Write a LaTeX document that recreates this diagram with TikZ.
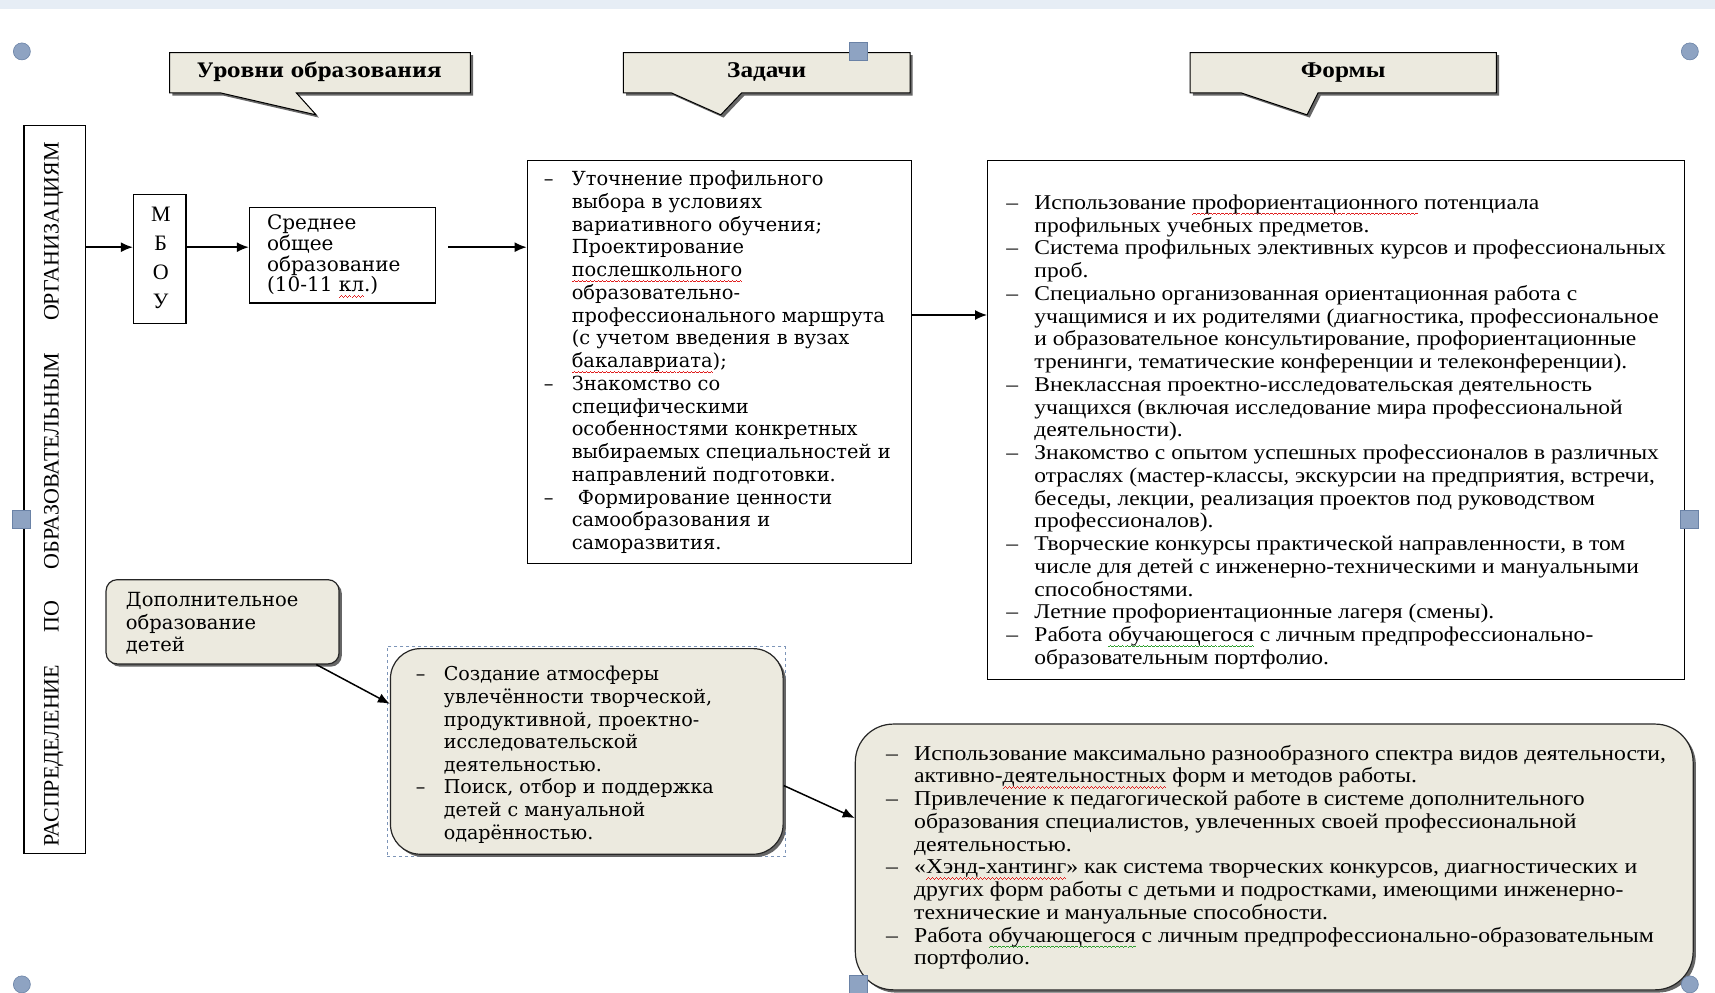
\documentclass[tikz,border=0pt]{standalone}
\usepackage{fontspec}
\setmainfont{Liberation Serif}
\newfontfamily\wideserif{DejaVu Serif}
\newfontfamily\formfont[FakeStretch=1.12]{Liberation Serif}
\usetikzlibrary{arrows.meta,fit,calc}
\definecolor{beige}{HTML}{ECEADF}
\definecolor{strip}{HTML}{E6EDF5}
\definecolor{hfill}{HTML}{8EA3C2}
\definecolor{hdraw}{HTML}{6A82A6}
\definecolor{selblue}{HTML}{7D95B8}
\definecolor{spellred}{HTML}{E02020}
\definecolor{spellgreen}{HTML}{30A030}
\newcommand\wavecell{\hbox{\rule[-5.6pt]{1pt}{0.9pt}\rule[-4.9pt]{1pt}{0.9pt}\rule[-4.2pt]{1pt}{0.9pt}\rule[-4.9pt]{1pt}{0.9pt}}}
\newcommand\wavyline[2]{{\setbox0\hbox{#2}\rlap{\color{#1}\hbox to \wd0{\xleaders\wavecell\hfill}}\box0}}
\newcommand\redwave[1]{\wavyline{spellred}{#1}}
\newcommand\greenwave[1]{\wavyline{spellgreen}{#1}}
\newcommand{\bul}[1]{\makebox[#1][l]{–}}
\newcommand{\tind}[1]{\hspace*{#1}}
\newcommand{\callshape}[5]{(#1,48) -- (#2,48) -- (#2,85) -- (#4,85) -- (#5,105) -- (#3,85) -- (#1,85) -- cycle}
\tikzset{
  box/.style={draw=black, line width=1.2pt, inner sep=0pt},
  rbox/.style={draw=black!85, line width=1.2pt, fill=beige, inner sep=0pt},
  shadowfill/.style={fill=black!60},
  txt/.style={inner sep=0pt, anchor=north west, align=left},
  arr/.style={-{Latex[length=12pt,width=10pt]}, line width=1.5pt},
  handleC/.style={circle, fill=hfill, draw=hdraw, line width=0.6pt, minimum size=17pt, inner sep=0pt},
  handleS/.style={rectangle, fill=hfill, draw=hdraw, line width=0.8pt, minimum size=18pt, inner sep=0pt},
  calltext/.style={inner sep=0pt, font=\formfont\bfseries\fontsize{22.5}{24}\selectfont},
}
\begin{document}
\begin{tikzpicture}[x=1.0938pt,y=-1.0938pt]
\useasboundingbox (0,0) rectangle (1568,907);
\fill[strip] (0,0) rectangle (1568,8);

% callouts
\fill[shadowfill,shift={(2.5,2.5)}] \callshape{155}{430}{202}{271}{289};
\filldraw[fill=beige, draw=black, line width=1pt] \callshape{155}{430}{202}{271}{289};
\node[calltext, font=\wideserif\bfseries\fontsize{20}{22}\selectfont] (t1) at (292,66) {Уровни образования};
\fill[shadowfill,shift={(2.5,2.5)}] \callshape{570}{832}{614}{678}{659};
\filldraw[fill=beige, draw=black, line width=1pt] \callshape{570}{832}{614}{678}{659};
\node[calltext] (t2) at (701,66) {Задачи};
\fill[shadowfill,shift={(2.5,2.5)}] \callshape{1088}{1368}{1135}{1205}{1195};
\filldraw[fill=beige, draw=black, line width=1pt] \callshape{1088}{1368}{1135}{1205}{1195};
\node[calltext] (t3) at (1228,66) {Формы};

% vertical box
\node[box, fit={(22,115) (78,780)}] (v) {};
\node[rotate=90, inner sep=0pt, font=\fontsize{22}{24}\selectfont] (vt) at (49,452)
  {\hbox to 705pt{РАСПРЕДЕЛЕНИЕ\hfill ПО\hfill ОБРАЗОВАТЕЛЬНЫМ\hfill ОРГАНИЗАЦИЯМ}};

% MBOU
\node[box, fit={(122,178) (170,296)}] (mb) {};
\node[align=center, inner sep=0pt, font=\fontsize{22}{29}\selectfont] (mbt) at (147,236) {М\\Б\\О\\У};

% Srednee
\node[box, fit={(228,190) (398,277)}] (sr) {};
\node[txt, font=\wideserif\fontsize{20}{20.8}\selectfont] (srt) at (244,196)
  {Среднее\\общее\\образование\\(10-11 \redwave{кл}.)};

% Zadachi box
\node[box, fit={(482,147) (833,515)}] (zad) {};
\node[txt, font=\wideserif\fontsize{19.4}{22.75}\selectfont] (zadt) at (497,156) {%
\bul{28pt}Уточнение профильного\\
\tind{28pt}выбора в условиях\\
\tind{28pt}вариативного обучения;\\
\tind{28pt}Проектирование\\
\tind{28pt}\redwave{послешкольного}\\
\tind{28pt}образовательно-\\
\tind{28pt}профессионального маршрута\\
\tind{28pt}(с учетом введения в вузах\\
\tind{28pt}\redwave{бакалавриата});\\
\bul{28pt}Знакомство со\\
\tind{28pt}специфическими\\
\tind{28pt}особенностями конкретных\\
\tind{28pt}выбираемых специальностей и\\
\tind{28pt}направлений подготовки.\\
\bul{28pt} Формирование ценности\\
\tind{28pt}самообразования и\\
\tind{28pt}саморазвития.};

% Formy box
\node[box, fit={(903,147) (1540,621)}] (form) {};
\node[txt, font=\formfont\fontsize{21}{22.75}\selectfont] (formt) at (920,178) {%
\bul{28pt}Использование \redwave{профориентационного} потенциала\\
\tind{28pt}профильных учебных предметов.\\
\bul{28pt}Система профильных элективных курсов и профессиональных\\
\tind{28pt}проб.\\
\bul{28pt}Специально организованная ориентационная работа с\\
\tind{28pt}учащимися и их родителями (диагностика, профессиональное\\
\tind{28pt}и образовательное консультирование, профориентационные\\
\tind{28pt}тренинги, тематические конференции и телеконференции).\\
\bul{28pt}Внеклассная проектно-исследовательская деятельность\\
\tind{28pt}учащихся (включая исследование мира профессиональной\\
\tind{28pt}деятельности).\\
\bul{28pt}Знакомство с опытом успешных профессионалов в различных\\
\tind{28pt}отраслях (мастер-классы, экскурсии на предприятия, встречи,\\
\tind{28pt}беседы, лекции, реализация проектов под руководством\\
\tind{28pt}профессионалов).\\
\bul{28pt}Творческие конкурсы практической направленности, в том\\
\tind{28pt}числе для детей с инженерно-техническими и мануальными\\
\tind{28pt}способностями.\\
\bul{28pt}Летние профориентационные лагеря (смены).\\
\bul{28pt}Работа \greenwave{обучающегося} с личным предпрофессионально-\\
\tind{28pt}образовательным портфолио.};

% Dop box
\fill[shadowfill, rounded corners=11pt] (99.5,532.5) rectangle (312.5,609.5);
\node[rbox, rounded corners=11pt, fit={(97,530) (310,607)}] (dop) {};
\node[txt, font=\wideserif\fontsize{19.5}{22.4}\selectfont] (dopt) at (115,541.5)
  {Дополнительное\\образование\\детей};

% Mid box
\node[draw=selblue, dashed, line width=0.8pt, inner sep=0pt, fit={(354,591) (718,783)}] (sel) {};
\fill[shadowfill, rounded corners=30pt] (359.5,595.5) rectangle (718.5,783.5);
\node[rbox, rounded corners=30pt, fit={(357,593) (716,781)}] (mid) {};
\node[txt, font=\wideserif\fontsize{19.1}{22.6}\selectfont] (midt) at (380,609) {%
\bul{28pt}Создание атмосферы\\
\tind{28pt}увлечённости творческой,\\
\tind{28pt}продуктивной, проектно-\\
\tind{28pt}исследовательской\\
\tind{28pt}деятельностью.\\
\bul{28pt}Поиск, отбор и поддержка\\
\tind{28pt}детей с мануальной\\
\tind{28pt}одарённостью.};

% Bottom box
\fill[shadowfill, rounded corners=38pt] (784.5,664.5) rectangle (1550.5,907.5);
\node[rbox, rounded corners=38pt, fit={(782,662) (1548,905)}] (bot) {};
\node[txt, font=\formfont\fontsize{21.2}{22.75}\selectfont] (bott) at (810,681) {%
\bul{28pt}Использование максимально разнообразного спектра видов деятельности,\\
\tind{28pt}активно-\redwave{деятельностных} форм и методов работы.\\
\bul{28pt}Привлечение к педагогической работе в системе дополнительного\\
\tind{28pt}образования специалистов, увлеченных своей профессиональной\\
\tind{28pt}деятельностью.\\
\bul{28pt}«\redwave{Хэнд-хантинг}» как система творческих конкурсов, диагностических и\\
\tind{28pt}других форм работы с детьми и подростками, имеющими инженерно-\\
\tind{28pt}технические и мануальные способности.\\
\bul{28pt}Работа \greenwave{обучающегося} с личным предпрофессионально-образовательным\\
\tind{28pt}портфолио.};

% connectors
\coordinate (r1) at (0,226);
\coordinate (r2) at (0,288);
\coordinate (s3) at (410,226);
\draw[arr] (v.east |- r1) -- (mb.west |- r1);
\draw[arr] (mb.east |- r1) -- (sr.west |- r1);
\draw[arr] (s3) -- (zad.west |- r1);
\draw[arr] (zad.east |- r2) -- (form.west |- r2);
\draw[arr] ($(dop.south east)!0.1!(dop.south west)$) -- ($(mid.north west)!0.27!(mid.south west)$);
\draw[arr] ($(mid.north east)!0.665!(mid.south east)$) -- ($(bot.north west)!0.354!(bot.south west)$);

% selection handles
\node[handleC] (h1) at (20,47) {};
\node[handleC] (h2) at (1545,47) {};
\node[handleC] (h3) at (20,900) {};
\node[handleC] (h4) at (1545,900) {};
\node[handleS] (h5) at (785,47) {};
\node[handleS] (h6) at (20,475) {};
\node[handleS] (h7) at (1545,475) {};
\node[handleS] (h8) at (785,900) {};
\end{tikzpicture}
\end{document}
